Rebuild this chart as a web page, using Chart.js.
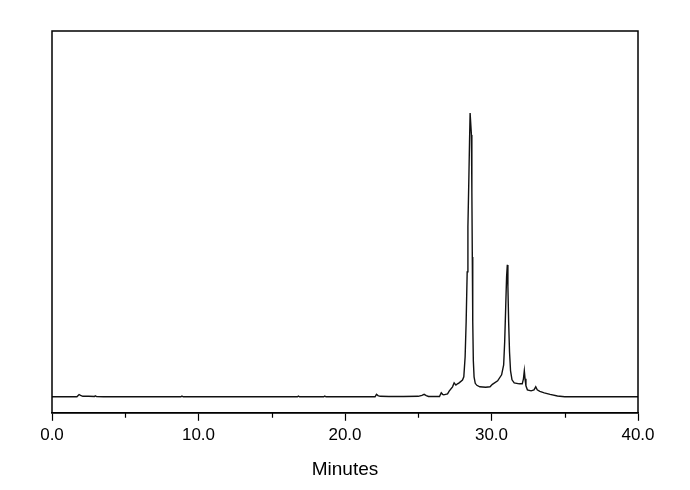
<!DOCTYPE html>
<html>
<head>
<meta charset="utf-8">
<script src="https://cdn.jsdelivr.net/npm/chart.js@4/dist/chart.umd.min.js"></script>
<style>
html,body{margin:0;padding:0;background:#fff;}
#wrap{width:690px;height:490px;}
</style>
</head>
<body>
<div id="wrap"><canvas id="c" width="690" height="490"></canvas></div>
<script>
// Retention time (minutes)
const times = [
  0.0, 1.7, 1.85, 1.95, 2.1, 2.5, 2.9, 2.95, 3.05, 3.5,
  8.8, 8.87, 8.95, 16.75, 16.82, 16.9, 18.55, 18.62, 18.7,
  22.05, 22.15, 22.25, 22.4, 23.0, 24.0, 25.0, 25.25, 25.4, 25.55, 25.7,
  26.45, 26.57, 26.66, 26.74, 27.0, 27.11, 27.34, 27.45, 27.57, 27.68, 27.79, 28.02, 28.11,
  28.2, 28.27, 28.34, 28.39, 28.45, 28.5, 28.54, 28.59, 28.63, 28.66, 28.69, 28.72, 28.76, 28.81, 28.89,
  29.0, 29.2, 29.6, 29.9, 30.06, 30.42, 30.69, 30.83, 30.9, 30.97, 31.03, 31.08, 31.12, 31.17, 31.23,
  31.3, 31.4, 31.55, 31.9, 32.1, 32.18, 32.24, 32.29, 32.35, 32.45, 32.7, 32.9, 33.02, 33.12, 33.3,
  33.6, 34.0, 34.5, 35.0, 35.3, 40.0
];
// Detector signal (arbitrary units)
const signal = [
  0, 0, 2.3, 1.5, 0.5, 0.5, 0.3, 1, 0.2, 0,
  0, 0.8, 0, 0, 0.7, 0, 0, 0.8, 0,
  0, 2.5, 1.2, 0.5, 0.3, 0.3, 0.5, 1.5, 2.5, 1.2, 0.3,
  0.3, 4, 2.5, 2, 3, 5.7, 10, 14, 11.7, 13, 14, 16.7, 20,
  40, 75, 125, 170, 215, 255, 284, 284, 262, 205, 140, 75, 36, 20, 13.5,
  11.5, 10, 9.5, 10, 12.5, 16, 22, 32, 55, 90, 120, 132, 110, 75, 45,
  26, 17, 14, 13, 13, 18, 26, 18, 11, 7, 6, 7, 10, 7, 5.5,
  4, 2.5, 0.8, 0.1, 0, 0
];
const xTicks = [0, 10, 20, 30, 40];
const xMinorTicks = [5, 15, 25, 35];
const xTitle = 'Minutes';

const points = times.map((t, i) => ({x: t, y: signal[i]}));

const frame = {
  id: 'frame',
  afterDraw(chart) {
    const {ctx, chartArea: a, scales} = chart;
    ctx.save();
    ctx.strokeStyle = '#000';
    ctx.lineWidth = 1.5;
    ctx.strokeRect(a.left, a.top, a.right - a.left, a.bottom - a.top);
    ctx.lineWidth = 1.2;
    ctx.beginPath();
    xMinorTicks.forEach(v => {
      const px = Math.round(scales.x.getPixelForValue(v)) + 0.5;
      ctx.moveTo(px, a.bottom);
      ctx.lineTo(px, a.bottom + 5);
    });
    ctx.stroke();
    ctx.restore();
  }
};

new Chart(document.getElementById('c'), {
  type: 'line',
  data: {
    datasets: [{
      data: points,
      borderColor: '#111',
      borderWidth: 1.4,
      pointRadius: 0,
      tension: 0,
      fill: false
    }]
  },
  options: {
    responsive: false,
    animation: false,
    events: [],
    layout: {padding: {left: 52, right: 52, top: 31, bottom: 5}},
    plugins: {legend: {display: false}, tooltip: {enabled: false}},
    scales: {
      x: {
        type: 'linear',
        min: 0, max: 40,
        afterBuildTicks: s => { s.ticks = xTicks.map(v => ({value: v})); },
        ticks: {
          color: '#000',
          font: {family: "'Liberation Sans', Arial, sans-serif", size: 17},
          padding: 4,
          maxRotation: 0,
          callback: v => Number(v).toFixed(1)
        },
        grid: {drawOnChartArea: false, tickLength: 8, color: '#000', tickWidth: 1.2},
        border: {color: '#000', width: 1.5},
        title: {
          display: true, text: xTitle, color: '#000',
          font: {family: "'Liberation Sans', Arial, sans-serif", size: 19},
          padding: {top: 9, bottom: 4}
        }
      },
      y: {
        display: false,
        min: -16, max: 366
      }
    }
  },
  plugins: [frame]
});
</script>
</body>
</html>
